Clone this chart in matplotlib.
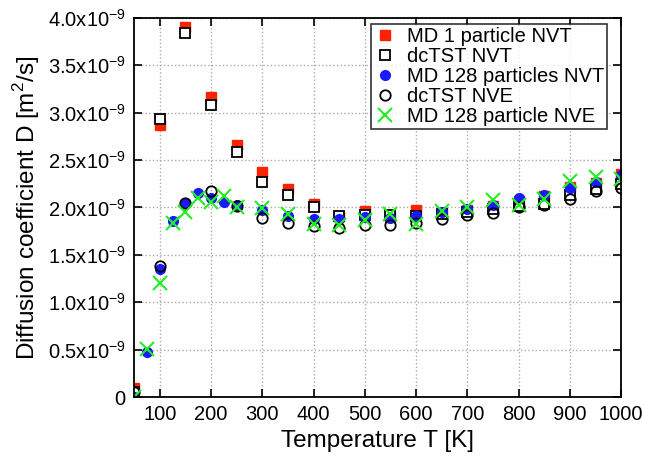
import numpy as np
import matplotlib.pyplot as plt
from matplotlib.ticker import FuncFormatter

plt.rcParams['font.family'] = ['Liberation Sans', 'DejaVu Sans']
plt.rcParams['mathtext.fontset'] = 'custom'
plt.rcParams['mathtext.rm'] = 'Liberation Sans'

# Datos (D en unidades de 1e-9 m^2/s)
#--------------------------------------
T_a = [50, 100, 150, 200, 250, 300, 350, 400, 450, 500, 550, 600, 650, 700, 750, 800, 850, 900, 950, 1000]
T_b = [50, 75, 100, 125, 150, 175, 200, 225, 250, 300, 350, 400, 450, 500, 550, 600, 650, 700, 750, 800, 850, 900, 950, 1000]

md1_nvt   = [0.10, 2.87, 3.90, 3.17, 2.66, 2.37, 2.19, 2.04, 1.91, 1.96, 1.90, 1.97, 1.94, 1.97, 2.02, 2.07, 2.12, 2.22, 2.26, 2.35]
dctst_nvt = [0.05, 2.93, 3.84, 3.08, 2.59, 2.27, 2.13, 2.01, 1.91, 1.92, 1.92, 1.91, 1.93, 1.95, 1.98, 2.02, 2.04, 2.13, 2.19, 2.25]
md128_nvt = [0.00, 0.48, 1.35, 1.86, 2.05, 2.15, 2.10, 2.06, 2.03, 1.97, 1.91, 1.88, 1.88, 1.90, 1.89, 1.91, 1.95, 1.98, 2.03, 2.10, 2.13, 2.21, 2.27, 2.34]
dctst_nve = [0.05, 1.38, 2.05, 2.17, 2.02, 1.89, 1.84, 1.80, 1.78, 1.81, 1.82, 1.84, 1.88, 1.92, 1.94, 2.00, 2.03, 2.09, 2.17, 2.21]
md128_nve = [0.00, 0.51, 1.20, 1.84, 1.95, 2.10, 2.06, 2.12, 2.01, 1.99, 1.93, 1.83, 1.81, 1.87, 1.93, 1.83, 1.96, 2.00, 2.08, 2.03, 2.09, 2.28, 2.32, 2.30]
#--------------------------------------

sc = 1e-9

fig = plt.figure(figsize=(6.45, 4.59), dpi=100)
ax = fig.add_axes([0.208, 0.135, 0.755, 0.826])

ax.plot(T_a, np.array(md1_nvt)*sc, 's', color='#ff2200', markersize=7.8, mec='#ff2200', label='MD 1 particle NVT')
ax.plot(T_a, np.array(dctst_nvt)*sc, 's', mfc='white', mec='black', mew=1.3, markersize=7.5, label='dcTST NVT')
ax.plot(T_b, np.array(md128_nvt)*sc, 'o', color='#1a1aff', markersize=7, label='MD 128 particles NVT')
ax.plot(T_a, np.array(dctst_nve)*sc, 'o', mfc='none', mec='black', mew=1.3, markersize=7.5, label='dcTST NVE')
ax.plot(T_b, np.array(md128_nve)*sc, 'x', color='#22ee22', markersize=9.5, mew=1.5, label='MD 128 particle NVE')

ax.set_xlim(50, 1000)
ax.set_ylim(0, 4.0e-9)
ax.set_xticks(np.arange(100, 1001, 100))
ax.set_yticks(np.arange(0, 4.01e-9, 0.5e-9))

def fmt_y(v, pos):
    if abs(v) < 1e-15:
        return '0'
    return '%.1fx10$^{-9}$' % (v/sc)
ax.yaxis.set_major_formatter(FuncFormatter(fmt_y))

ax.grid(True, color='#aaaaaa', linestyle=':', linewidth=1.0)
ax.tick_params(direction='in', top=True, right=True, length=6, width=1.2, labelsize=14.5, pad=6)
for s in ax.spines.values():
    s.set_linewidth(1.3)

ax.set_xlabel('Temperature T [K]', fontsize=17.5)
ax.set_ylabel('Diffusion coefficient D [m$^2$/s]', fontsize=17.5)

leg = ax.legend(loc='upper right', bbox_to_anchor=(0.971, 0.984), fontsize=14.5, frameon=True,
                fancybox=False, edgecolor='black', handlelength=1.0, handletextpad=0.6,
                labelspacing=0.05, borderpad=0.15, borderaxespad=0.0)
leg.get_frame().set_linewidth(1.2)

plt.savefig('out.png', dpi=100)
